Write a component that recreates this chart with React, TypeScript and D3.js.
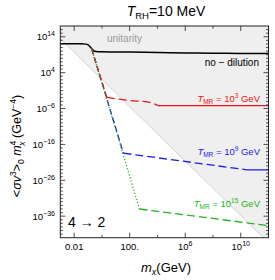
import React from "react";
import * as d3 from "d3";

// mass grid (GeV) and values of <sigma v^3>_0 m^4 (GeV^-4)
const noDilutionM = [1e-3, 0.03, 0.07, 0.1, 0.135, 0.18, 0.25, 0.35, 1, 100, 1e4, 1e6, 1e8, 1e10, 1e12];
const noDilutionV = [1.15e12, 1.07e12, 8.9e11, 5.6e11, 2e11, 5e10, 1.4e10, 8e9, 6.3e9, 5.6e9, 4.2e9, 3.2e9, 2.6e9, 2.3e9, 2.1e9];

const redSteepM = [0.18, 2.24];
const redSteepV = [5e10, 1.3e-3];
const redDashM = [2.24, 107, 2100, 6000, 1.1e4];
const redDashV = [1.3e-3, 1.7e-4, 6.5e-5, 2e-5, 6.8e-6];
const redSolidM = [1.1e4, 1e12];
const redSolidV = [6.8e-6, 6.8e-6];

const blueSteepM = [0.18, 35];
const blueSteepV = [5e10, 3.6e-19];
const blueDashM = [35, 2.8e10];
const blueDashV = [3.6e-19, 8.3e-24];
const blueSolidM = [2.8e10, 1e12];
const blueSolidV = [8.3e-24, 8.3e-24];

const greenSteepM = [0.18, 500];
const greenSteepV = [5e10, 1e-34];
const greenDashM = [500, 1e12];
const greenDashV = [1e-34, 2.3e-39];

const unitarityM = [1e-3, 1e12];
const unitarityV = [3e13, 4e-44];

const yMajor = [14, 4, -6, -16, -26, -36];
const xMajor = [-2, 2, 6, 10];
const xMinor = [0, 4, 8];
const xLabels = ["0.01", "100.", "", ""];

const W = 275;
const H = 280;
const L = 60.3, R = 268.5, T = 26, B = 237.7;

const RED = "#ee1111";
const BLUE = "#1a1aee";
const GREEN = "#22b422";
const FONT = "Liberation Sans, Arial, sans-serif";

const App = () => {
  const x = d3.scaleLog().domain([1e-3, 1e12]).range([L, R]);
  const y = d3.scaleLog().domain([1e-42, 1e17]).range([B, T]);

  const path = (ms: number[], vs: number[], smooth = false) => {
    const line = d3
      .line<number>()
      .x((_, i) => x(ms[i]))
      .y((d) => y(d));
    if (smooth) line.curve(d3.curveMonotoneX);
    return line(vs) || "";
  };

  // shaded unitarity-excluded area above the bound
  const ux0 = x(unitarityM[0]), uy0 = y(unitarityV[0]);
  const ux1 = x(unitarityM[1]), uy1 = y(unitarityV[1]);
  const shade = `M${ux0},${uy0}L${ux1},${uy1}L${R},${T}L${L},${T}Z`;

  const yMinor = d3.range(-41, 17).filter((e) => !yMajor.includes(e));

  const sup = (base: string, exp: string, xx: number, yy: number, anchor: string) => (
    <text x={xx} y={yy} textAnchor={anchor} fontSize={9.5} fontFamily={FONT}>
      {base}
      <tspan fontSize={7} dy={-4}>{exp}</tspan>
    </text>
  );

  const tmrLabel = (exp: string, color: string, xx: number, yy: number) => (
    <text x={xx} y={yy} textAnchor="end" fontSize={9.5} fontFamily={FONT} fill={color}>
      <tspan fontStyle="italic">T</tspan>
      <tspan fontSize={6.5} dy={2}>MR</tspan>
      <tspan dy={-2}> = 10</tspan>
      <tspan fontSize={6.5} dy={-4}>{exp}</tspan>
      <tspan dy={4}> GeV</tspan>
    </text>
  );

  return (
    <svg width={W} height={H} style={{ position: "absolute", left: 0, top: 0 }}>
      <defs>
        <clipPath id="plot">
          <rect x={L} y={T} width={R - L} height={B - T} />
        </clipPath>
      </defs>
      <rect width={W} height={H} fill="#fff" />

      <g clipPath="url(#plot)">
        <path d={shade} fill="#efefef" />
        <line x1={ux0} y1={uy0} x2={ux1} y2={uy1} stroke="#d4d4d4" strokeWidth={1} />

        <path d={path(noDilutionM, noDilutionV, true)} fill="none" stroke="#000" strokeWidth={1.5} />

        <path d={path(blueSteepM, blueSteepV)} fill="none" stroke={BLUE} strokeWidth={1.3} strokeDasharray="6,3" />
        <path d={path(blueDashM, blueDashV)} fill="none" stroke={BLUE} strokeWidth={1.3} strokeDasharray="8,4" />
        <path d={path(blueSolidM, blueSolidV)} fill="none" stroke={BLUE} strokeWidth={1.3} />

        <path d={path(redSteepM, redSteepV)} fill="none" stroke={RED} strokeWidth={1.3} strokeDasharray="6,3" />
        <path d={path(redDashM, redDashV, true)} fill="none" stroke={RED} strokeWidth={1.3} strokeDasharray="8,4" />
        <path d={path(redSolidM, redSolidV)} fill="none" stroke={RED} strokeWidth={1.3} />

        <path d={path(greenSteepM, greenSteepV)} fill="none" stroke={GREEN} strokeWidth={1.3} strokeDasharray="1.2,2" />
        <path d={path(greenDashM, greenDashV)} fill="none" stroke={GREEN} strokeWidth={1.3} strokeDasharray="8,4" />
      </g>

      {/* frame and ticks */}
      <rect x={L} y={T} width={R - L} height={B - T} fill="none" stroke="#222" strokeWidth={1} />
      <g stroke="#222" strokeWidth={0.8}>
        {yMajor.map((e) => (
          <g key={"ym" + e}>
            <line x1={L} x2={L + 5} y1={y(10 ** e)} y2={y(10 ** e)} />
            <line x1={R} x2={R - 5} y1={y(10 ** e)} y2={y(10 ** e)} />
          </g>
        ))}
        {yMinor.map((e) => (
          <g key={"yn" + e}>
            <line x1={L} x2={L + 2.5} y1={y(10 ** e)} y2={y(10 ** e)} />
            <line x1={R} x2={R - 2.5} y1={y(10 ** e)} y2={y(10 ** e)} />
          </g>
        ))}
        {xMajor.map((e) => (
          <g key={"xm" + e}>
            <line x1={x(10 ** e)} x2={x(10 ** e)} y1={B} y2={B - 5} />
            <line x1={x(10 ** e)} x2={x(10 ** e)} y1={T} y2={T + 5} />
          </g>
        ))}
        {xMinor.map((e) => (
          <g key={"xn" + e}>
            <line x1={x(10 ** e)} x2={x(10 ** e)} y1={B} y2={B - 2.7} />
            <line x1={x(10 ** e)} x2={x(10 ** e)} y1={T} y2={T + 2.7} />
          </g>
        ))}
      </g>

      {/* tick labels */}
      {yMajor.map((e) =>
        <g key={"yl" + e}>{sup("10", e < 0 ? "\u2212" + -e : String(e), 55, y(10 ** e) + 3.5, "end")}</g>
      )}
      {xMajor.map((e, i) =>
        xLabels[i] ? (
          <text key={"xl" + e} x={x(10 ** e)} y={249.5} textAnchor="middle" fontSize={9.5} fontFamily={FONT}>
            {xLabels[i]}
          </text>
        ) : (
          <g key={"xl" + e}>{sup("10", String(e), x(10 ** e), 249.5, "middle")}</g>
        )
      )}

      {/* title */}
      <text x={166} y={16} textAnchor="middle" fontSize={14} fontFamily={FONT}>
        <tspan fontStyle="italic">T</tspan>
        <tspan fontSize={9.5} dy={3}>RH</tspan>
        <tspan dy={-3}>=10 MeV</tspan>
      </text>

      {/* annotations */}
      <text x={124.5} y={42} textAnchor="middle" fontSize={10} fontFamily={FONT} fill="#999">unitarity</text>
      <text x={259} y={65.5} textAnchor="end" fontSize={10} fontFamily={FONT}>no − dilution</text>
      {tmrLabel("3", RED, 260, 101.5)}
      {tmrLabel("9", BLUE, 260, 155)}
      {tmrLabel("15", GREEN, 260, 206.5)}
      <text x={68} y={226.5} fontSize={14} fontFamily={FONT}>4 → 2</text>

      {/* axis titles */}
      <text x={166} y={272} textAnchor="middle" fontSize={13} fontFamily={FONT}>
        <tspan fontStyle="italic">m</tspan>
        <tspan fontStyle="italic" fontSize={9} dy={3}>x</tspan>
        <tspan dy={-3}>(GeV)</tspan>
      </text>
      <text transform="translate(21,146) rotate(-90)" textAnchor="middle" fontSize={12.5} fontFamily={FONT}>
        {"<"}
        <tspan fontStyle="italic">σv</tspan>
        <tspan fontSize={8.5} dy={-5}>3</tspan>
        <tspan dy={5}>{">"}</tspan>
        <tspan fontSize={8.5} dy={3}>0</tspan>
        <tspan fontStyle="italic" dy={-3}> m</tspan>
        <tspan fontSize={8.5} dy={-5}>4</tspan>
        <tspan fontSize={8.5} fontStyle="italic" dx={-5} dy={9}>x</tspan>
        <tspan dy={-4}> (GeV</tspan>
        <tspan fontSize={8.5} dy={-5}>−4</tspan>
        <tspan dy={5}>)</tspan>
      </text>
    </svg>
  );
};

export default App;
